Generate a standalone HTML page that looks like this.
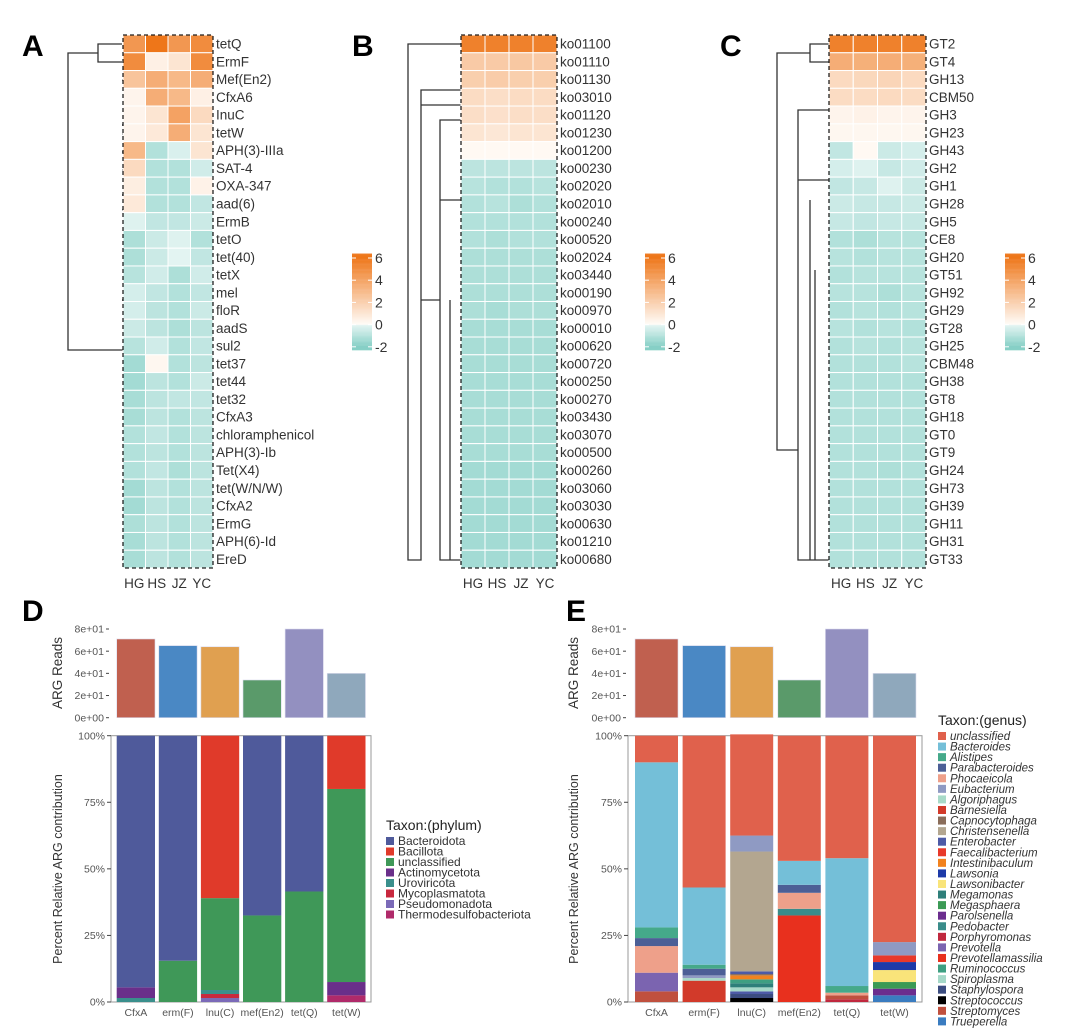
<!DOCTYPE html>
<html><head><meta charset="utf-8"><style>
body{margin:0;background:#fff;}
svg{display:block;font-family:"Liberation Sans",sans-serif;}
</style></head><body>
<svg id="fig" width="1080" height="1034" viewBox="0 0 1080 1034" xmlns="http://www.w3.org/2000/svg">
<g id="labels">
<text x="22" y="56" font-size="30" font-weight="bold">A</text>
<text x="352" y="56" font-size="30" font-weight="bold">B</text>
<text x="720" y="56" font-size="30" font-weight="bold">C</text>
<text x="22" y="621" font-size="30" font-weight="bold">D</text>
<text x="566" y="621" font-size="30" font-weight="bold">E</text>
</g>
<g id="dendro" fill="none" stroke="#333" stroke-width="1.3">
<path d="M122,44 H98 V62 H122 M98,53 H68 V350 H130 V300 H122 M68,350 H130 M130,300 V150 M122,80 H150 V125 H122 M150,100 H130 V150 M130,150 H148 V160 M122,134 H165 V152 H122 M165,143 H148 M130,330 H160 V170 H122 M160,195 H122 M160,330 V560 H122 M150,210 H122 M155,240 V560"/>
<path d="M461,44 H408 V560 H421 V90 H461 M421,90 V105 H461 M421,300 H440 V120 H461 M440,200 H461 M440,300 V560 H461 M450,300 V560"/>
<path d="M829,44 H810 V62 H829 M810,53 H777 V450 H798 V110 H829 M798,180 H829 M798,450 V560 H829 M810,200 V560 M815,270 V560"/>
</g>
<g id="heatA"></g><g id="heatB"></g><g id="heatC"></g>
<g id="cbars"></g>
<g id="panelD"></g><g id="panelE"></g>
</svg>
<script>
const NS="http://www.w3.org/2000/svg";
function mk(tag,attrs,parent,txt){const e=document.createElementNS(NS,tag);for(const k in attrs)e.setAttribute(k,attrs[k]);if(txt!==undefined)e.textContent=txt;parent.appendChild(e);return e;}

const heatCols=["HG","HS","JZ","YC"];
const rowsA=["tetQ","ErmF","Mef(En2)","CfxA6","InuC","tetW","APH(3)-IIIa","SAT-4","OXA-347","aad(6)","ErmB","tetO","tet(40)","tetX","mel","floR","aadS","sul2","tet37","tet44","tet32","CfxA3","chloramphenicol","APH(3)-Ib","Tet(X4)","tet(W/N/W)","CfxA2","ErmG","APH(6)-Id","EreD"];
const valsA=[[4.5,6,4.5,5],[5,0.5,1,5],[2.5,3.5,3,3.5],[0.3,3.5,3,0.5],[0.3,1,4,1.5],[0.3,0.8,3.5,1],[3,-1.1,-0.3,1],[1.5,-1.1,-1.1,-0.5],[0.6,-1.1,-1.1,0.4],[0.8,-1.1,-1.1,-0.8],[-0.2,-0.8,-0.8,-0.6],[-1.2,-0.6,-0.2,-1.1],[-1.2,-0.6,-0.1,-0.8],[-1,-0.5,-1.2,-0.5],[-0.4,-0.8,-1.1,-0.8],[-0.4,-0.9,-1.1,-0.6],[-0.6,-0.9,-1.2,-0.9],[-1,-0.5,-1.1,-0.8],[-1.4,0.2,-1.1,-0.9],[-1.4,-0.9,-1.1,-0.6],[-1.3,-0.9,-0.8,-0.8],[-1.3,-0.9,-1.1,-0.9],[-1.1,-0.8,-1.1,-0.9],[-1.1,-0.9,-1.1,-0.9],[-1.1,-0.8,-1.2,-0.9],[-1.4,-0.9,-1.1,-0.9],[-1.4,-0.9,-1.1,-0.9],[-1.2,-0.9,-1.1,-0.9],[-1.3,-0.9,-1.1,-0.9],[-1.3,-0.9,-1.1,-0.9]];
const rowsB=["ko01100","ko01110","ko01130","ko03010","ko01120","ko01230","ko01200","ko00230","ko02020","ko02010","ko00240","ko00520","ko02024","ko03440","ko00190","ko00970","ko00010","ko00620","ko00720","ko00250","ko00270","ko03430","ko03070","ko00500","ko00260","ko03060","ko03030","ko00630","ko01210","ko00680"];
const valsB=[[5.5,5.5,5.5,5.5],[2.2,2.2,2.3,2.2],[2,2.1,2,2],[1.4,1.3,1.4,1.4],[1.3,1.2,1.3,1.3],[1,0.9,1,1],[0.1,0.1,0.1,0.1],[-0.9,-0.9,-0.9,-0.9],[-1,-1.1,-1.1,-1],[-1.1,-1,-1.2,-1.1],[-1.1,-1.1,-1.1,-1.1],[-1.1,-1.2,-1.1,-1.1],[-1.2,-1.2,-1.2,-1.2],[-1.2,-1.2,-1.2,-1.2],[-1.2,-1.2,-1.2,-1.2],[-1.2,-1.3,-1.2,-1.2],[-1.3,-1.3,-1.3,-1.3],[-1.3,-1.3,-1.3,-1.3],[-1.3,-1.3,-1.3,-1.3],[-1.3,-1.3,-1.3,-1.3],[-1.3,-1.3,-1.3,-1.3],[-1.3,-1.3,-1.3,-1.3],[-1.3,-1.3,-1.3,-1.3],[-1.3,-1.3,-1.3,-1.3],[-1.4,-1.4,-1.4,-1.4],[-1.4,-1.4,-1.4,-1.4],[-1.4,-1.4,-1.4,-1.4],[-1.4,-1.4,-1.4,-1.4],[-1.4,-1.4,-1.4,-1.4],[-1.4,-1.4,-1.4,-1.4]];
const rowsC=["GT2","GT4","GH13","CBM50","GH3","GH23","GH43","GH2","GH1","GH28","GH5","CE8","GH20","GT51","GH92","GH29","GT28","GH25","CBM48","GH38","GT8","GH18","GT0","GT9","GH24","GH73","GH39","GH11","GH31","GT33"];
const valsC=[[5.5,5.5,5.5,5.5],[3.5,3.4,3.5,3.4],[1.5,1.6,1.7,1.5],[1.4,1.4,1.5,1.4],[0.3,0.4,0.3,0.3],[0.2,0.2,0.2,0.2],[-0.8,0.1,-0.6,-0.4],[-0.4,-0.2,-0.7,-0.5],[-0.8,-0.7,-0.2,-0.6],[-0.6,-0.7,-0.7,-0.6],[-0.7,-0.8,-0.7,-0.7],[-1.1,-1.2,-1,-1],[-1,-1.1,-1,-1],[-1.1,-1,-1,-1],[-1,-1,-1.2,-1],[-1.1,-1,-1.1,-1],[-1,-1.1,-1,-1.1],[-1.1,-1,-1.1,-1],[-1.1,-1.1,-1.1,-1],[-1.1,-1.1,-1.1,-1.1],[-1.1,-1.1,-1.1,-1.1],[-1.1,-1.1,-1.1,-1.1],[-1.1,-1.1,-1.1,-1.1],[-1.1,-1.1,-1.1,-1.1],[-1.1,-1.1,-1.2,-1.1],[-1.1,-1.1,-1.1,-1.1],[-1.1,-1.1,-1.1,-1.1],[-1.1,-1.1,-1.1,-1.1],[-1.1,-1.1,-1.1,-1.1],[-1.1,-1.1,-1.1,-1.1]];
const cbarTicks=[6,4,2,0,-2];

const genes=["CfxA","erm(F)","lnu(C)","mef(En2)","tet(Q)","tet(W)"];
const readCounts=[71,65,64,34,80,40];
const readColors=["#c0604f","#4a88c4","#e0a050","#5a9a6a","#9390c0","#8fa8bc"];
const readTicks=[0,20,40,60,80];
const readTickLabels=["0e+00","2e+01","4e+01","6e+01","8e+01"];
const pctTicks=[0,25,50,75,100];
const phyla=["Bacteroidota","Bacillota","unclassified","Actinomycetota","Uroviricota","Mycoplasmatota","Pseudomonadota","Thermodesulfobacteriota"];
const phylaColors=["#4f5a9b","#e03a2a","#3f9858","#6a2f8a","#3a8f8c","#c8283e","#7b6ab8","#b02a6a"];
const phylaBacteroidota=[94.5,84.5,0,67.5,58.5,0];
const phylaBacillota=[0,0,61,0,0,20];
const phylaUnclassified=[0,15.5,34.5,32.5,41.5,72.5];
const phylaActino=[4,0,0,0,0,5];
const phylaUro=[1.5,0,1.5,0,0,0];
const phylaMyco=[0,0,1.5,0,0,0];
const phylaPseudo=[0,0,1.5,0,0,0];
const phylaThermo=[0,0,0,0,0,2.5];
const phylaValues=[phylaBacteroidota,phylaBacillota,phylaUnclassified,phylaActino,phylaUro,phylaMyco,phylaPseudo,phylaThermo];

const genera=["unclassified","Bacteroides","Alistipes","Parabacteroides","Phocaeicola","Eubacterium","Algoriphagus","Barnesiella","Capnocytophaga","Christensenella","Enterobacter","Faecalibacterium","Intestinibaculum","Lawsonia","Lawsonibacter","Megamonas","Megasphaera","Parolsenella","Pedobacter","Porphyromonas","Prevotella","Prevotellamassilia","Ruminococcus","Spiroplasma","Staphylospora","Streptococcus","Streptomyces","Trueperella"];
const generaColors=["#e0614c","#74bfd8","#45a98a","#4c5f96","#eea08a","#8f9ac3","#a8dac8","#d23a2a","#8a6d5a","#b3a690","#4d5aa6","#e8392a","#f2821e","#1d3aa8","#f9e47a","#2e7f7a","#3b9a55","#6b2d8e","#3a8c8a","#c0283e","#7b64b0","#e8301e","#3e9f82","#a5d8c8","#3b4c80","#000000","#c0503e","#3a7cc0"];
const stackCfxA=[["Streptomyces",4],["Prevotella",7],["Phocaeicola",10],["Parabacteroides",3],["Alistipes",4],["Bacteroides",62],["unclassified",10]];
const stackErmF=[["Barnesiella",8],["Algoriphagus",1],["Eubacterium",1],["Parabacteroides",2.5],["Alistipes",1.5],["Bacteroides",29],["unclassified",57]];
const stackLnuC=[["Streptococcus",1.5],["Staphylospora",1.5],["Enterobacter",1],["Spiroplasma",1.5],["Megamonas",1.5],["Ruminococcus",1.5],["Intestinibaculum",1.5],["Capnocytophaga",0.5],["Enterobacter",1],["Christensenella",45],["Eubacterium",6],["unclassified",38]];
const stackMef=[["Prevotellamassilia",32.5],["Pedobacter",2.5],["Phocaeicola",6],["Parabacteroides",3],["Bacteroides",9],["unclassified",47]];
const stackTetQ=[["Porphyromonas",1],["Streptomyces",1.5],["Phocaeicola",1],["Alistipes",2.5],["Bacteroides",48],["unclassified",46]];
const stackTetW=[["Trueperella",2.5],["Parolsenella",2.5],["Megasphaera",2.5],["Lawsonibacter",4.5],["Lawsonia",3],["Faecalibacterium",2.5],["Eubacterium",5],["unclassified",77.5]];
const genusStacks=[stackCfxA,stackErmF,stackLnuC,stackMef,stackTetQ,stackTetW];

function lerp(a,b,t){return Math.round(a+(b-a)*t);}
function hex(c){return [parseInt(c.slice(1,3),16),parseInt(c.slice(3,5),16),parseInt(c.slice(5,7),16)];}
function mix(c1,c2,t){t=Math.max(0,Math.min(1,t));const a=hex(c1),b=hex(c2);return `rgb(${lerp(a[0],b[0],t)},${lerp(a[1],b[1],t)},${lerp(a[2],b[2],t)})`;}
function heatColor(v){if(v<0)return mix("#e8f6f4","#86cfc6",-v/2);return mix("#fffbf7","#ee7619",v/6);}

function heatmap(gid,rows,vals,x0,w,name){
  const g=document.getElementById(gid);
  const y0=35,h=533,rh=h/rows.length,cw=w/heatCols.length;
  rows.forEach((r,i)=>{
    vals[i].forEach((v,j)=>{
      const c=mk('rect',{x:x0+j*cw,y:y0+i*rh,width:cw,height:rh,fill:heatColor(v),stroke:'#fff','stroke-width':1},g);
      
      
    });
    const t=mk('text',{x:x0+w+3,y:y0+i*rh+rh/2+4.7,'font-size':13.5,fill:'#333'},g,r);
    
    
  });
  const b=mk('rect',{x:x0,y:y0,width:w,height:h,fill:'none',stroke:'#222','stroke-width':1.3,'stroke-dasharray':'4,3'},g);
  
  
  heatCols.forEach((c,j)=>{
    const t=mk('text',{x:x0+j*cw+cw/2,y:588,'font-size':13.5,'text-anchor':'middle',fill:'#333'},g,c);
    
    
  });
}
heatmap('heatA',rowsA,valsA,123,90,'heatmap-a');
heatmap('heatB',rowsB,valsB,461,96,'heatmap-b');
heatmap('heatC',rowsC,valsC,829,97,'heatmap-c');

const cb=document.getElementById('cbars');
[352,645,1005].forEach((cx,k)=>{
  const yOf=v=>258+(6-v)*11.1;
  for(let v=-2.3;v<6.3;v+=0.1){
    const r=mk('rect',{x:cx,y:yOf(v+0.1),width:20,height:1.3,fill:heatColor(v)},cb);
    
    
  }
  cbarTicks.forEach(t=>{
    mk('line',{x1:cx,x2:cx+4,y1:yOf(t),y2:yOf(t),stroke:'#fff'},cb);
    mk('line',{x1:cx+16,x2:cx+20,y1:yOf(t),y2:yOf(t),stroke:'#fff'},cb);
    const l=mk('text',{x:cx+23,y:yOf(t)+5,'font-size':14,fill:'#333'},cb,String(t));
    
    
  });
});

function barPanel(gid,axisX,boxR,barX0,step,bw,stackFn,titleX,name){
  const g=document.getElementById(gid);
  const ty=v=>717.7-v/80*88.7;
  readTicks.forEach((t,i)=>{
    mk('line',{x1:axisX-5,x2:axisX-2,y1:ty(t),y2:ty(t),stroke:'#444'},g);
    const l=mk('text',{x:axisX-7,y:ty(t)+3.7,'font-size':10.5,'text-anchor':'end',fill:'#555'},g,readTickLabels[i]);
    
    
  });
  const at=mk('text',{x:0,y:0,'font-size':13.5,'text-anchor':'middle',fill:'#333',transform:`translate(${titleX},${673}) rotate(-90)`},g,'ARG Reads');
  
  
  genes.forEach((gn,i)=>{
    const r=mk('rect',{x:barX0+i*step,y:ty(readCounts[i]),width:bw,height:ty(0)-ty(readCounts[i]),fill:readColors[i],stroke:'#dde',"stroke-width":0.6},g);
    
    
  });
  const py=v=>1002-v/100*266.3;
  const box=mk('rect',{x:axisX,y:py(100),width:boxR-axisX,height:py(0)-py(100),fill:'#fff',stroke:'#999','stroke-width':1},g);
  
  
  pctTicks.forEach(t=>{
    mk('line',{x1:axisX-4,x2:axisX,y1:py(t),y2:py(t),stroke:'#444'},g);
    const l=mk('text',{x:axisX-6,y:py(t)+3.7,'font-size':10.5,'text-anchor':'end',fill:'#555'},g,t+'%');
    
    
  });
  const pt=mk('text',{x:0,y:0,'font-size':12.5,'text-anchor':'middle',fill:'#333',transform:`translate(${titleX},${869}) rotate(-90)`},g,'Percent Relative ARG contribution');
  
  
  genes.forEach((gn,i)=>{
    let acc=0;
    stackFn(i).forEach(([val,col])=>{
      if(val<=0)return;
      const r=mk('rect',{x:barX0+i*step,y:py(acc+val),width:bw,height:py(acc)-py(acc+val),fill:col},g);
      
      
      acc+=val;
    });
    const l=mk('text',{x:barX0+i*step+bw/2,y:1016,'font-size':10.5,'text-anchor':'middle',fill:'#555'},g,gn);
    
    
  });
}
barPanel('panelD',111,371,116.7,42.1,38.3,i=>{
  const out=[];for(let k=phyla.length-1;k>=0;k--)out.push([phylaValues[k][i],phylaColors[k]]);return out;
},62,'phylum-chart');
barPanel('panelE',628,922,635,47.6,43,i=>genusStacks[i].map(([gname,v])=>[v,generaColors[genera.indexOf(gname)]]),578,'genus-chart');

function legend(gid,title,items,colors,x,y0,step,italic,fs,name){
  const g=document.getElementById(gid);
  const t=mk('text',{x:x,y:y0-11,'font-size':14,fill:'#222'},g,title);
  
  
  items.forEach((it,i)=>{
    const y=y0+i*step;
    const r=mk('rect',{x:x,y:y-4,width:8,height:8,fill:colors[i]},g);
    
    
    const l=mk('text',{x:x+12,y:y+4,'font-size':fs,fill:'#333','font-style':italic?'italic':'normal'},g,it);
    
    
  });
}
legend('panelD','Taxon:(phylum)',phyla,phylaColors,386,841,10.5,false,12,'phylum-legend');
legend('panelE','Taxon:(genus)',genera,generaColors,938,736,10.57,true,11.5,'genus-legend');
</script>
</body></html>
